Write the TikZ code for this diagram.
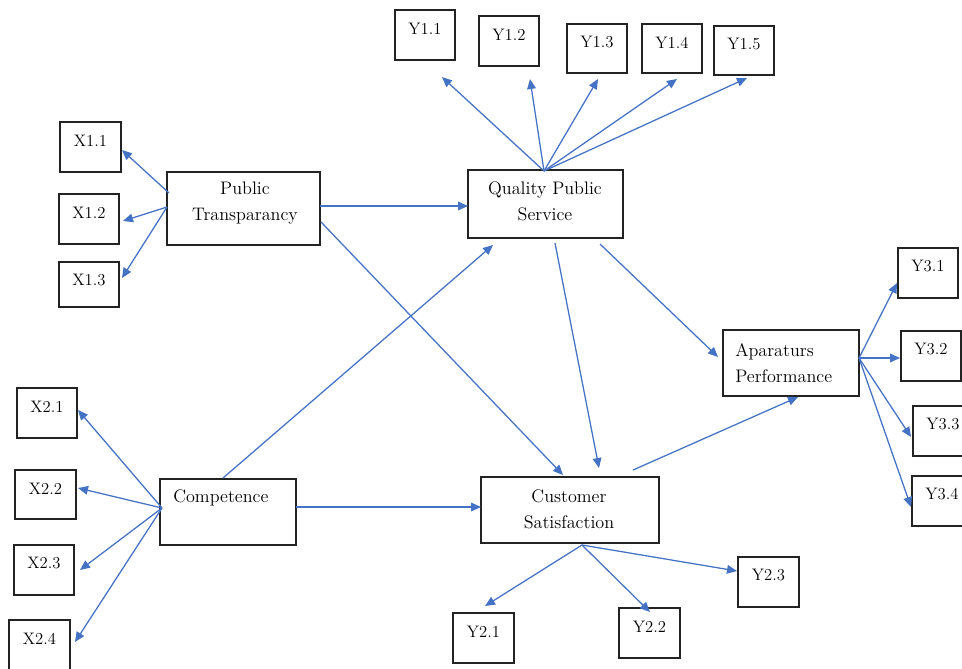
\documentclass[tikz,border=0pt]{standalone}
\usetikzlibrary{arrows.meta}
\definecolor{arrblue}{RGB}{68,114,196}
\definecolor{boxline}{RGB}{35,35,35}
\begin{document}
\begin{tikzpicture}[x=0.75pt,y=-0.75pt,
  box/.style={draw=boxline, line width=1pt, inner sep=0pt},
  ind/.style={box, minimum width=45pt, minimum height=37.5pt,
    label={[anchor=center,yshift=-14.25pt,inner sep=0pt,font=\fontsize{12.5}{15}\selectfont]north:#1}},
  txt/.style={inner sep=0pt, font=\fontsize{13.6}{19.5}\selectfont},
  arr/.style={draw=arrblue, line width=0.95pt, -{Triangle[length=7.5pt,width=6.5pt]}}]
\useasboundingbox (0,0) rectangle (962,668);
\clip (0,0) rectangle (962,668);
% ---------- main constructs ----------
\node[box, minimum width=114.75pt, minimum height=54.75pt] (PT) at (243.5,208.5) {};
\node[txt, align=center] (PTt) at (245,203.5) {Public\\Transparancy};
\node[box, minimum width=116.25pt, minimum height=51pt] (QPS) at (545.5,204) {};
\node[txt, align=center] (QPSt) at (545,201) {Quality Public\\Service};
\node[box, minimum width=102pt, minimum height=49.5pt] (Comp) at (228,512) {};
\node[txt, anchor=west] (Compt) at (173,498) {Competence};
\node[box, minimum width=133.5pt, minimum height=49.5pt] (CS) at (570,510) {};
\node[txt, align=center] (CSt) at (569,509) {Customer\\Satisfaction};
\node[box, minimum width=102pt, minimum height=49.5pt] (AP) at (791,363) {};
\node[txt, align=left, anchor=west] (APt) at (735,363) {Aparaturs\\Performance};
% ---------- indicators ----------
\node[ind=Y1.1] (y11) at (425,35) {};
\node[ind=Y1.2] (y12) at (509,41) {};
\node[ind=Y1.3, minimum height=36.75pt] (y13) at (597,48.5) {};
\node[ind=Y1.4, minimum height=36.75pt] (y14) at (672,48.5) {};
\node[ind=Y1.5, minimum height=36.75pt] (y15) at (744,50.5) {};
\node[ind=X1.1, minimum width=45.75pt] (x11) at (90.5,147) {};
\node[ind=X1.2] (x12) at (89,219) {};
\node[ind=X1.3, minimum height=33.75pt] (x13) at (89,284.5) {};
\node[ind=X2.1] (x21) at (47,413) {};
\node[ind=X2.2, minimum width=45.75pt, minimum height=36.75pt] (x22) at (45.5,494.5) {};
\node[ind=X2.3] (x23) at (44,570) {};
\node[ind=X2.4, minimum width=45.75pt] (x24) at (39.5,645) {};
\node[ind=Y2.1, minimum width=45.75pt] (y21) at (483.5,638) {};
\node[ind=Y2.2, minimum width=45.75pt] (y22) at (649.5,633) {};
\node[ind=Y2.3, minimum width=45.75pt] (y23) at (768.5,582) {};
\node[ind=Y3.1] (y31) at (928,273) {};
\node[ind=Y3.2] (y32) at (931,356) {};
\node[ind=Y3.3] (y33) at (943,431) {};
\node[ind=Y3.4] (y34) at (942,501) {};
% ---------- connector end points ----------
\coordinate (qsrc) at (544,171);
\coordinate (t11) at (442,77);
\coordinate (t12) at (530,79);
\coordinate (t13) at (598,79);
\coordinate (t14) at (677,79);
\coordinate (t15) at (747,78);
\coordinate (psrcA) at (169,193);
\coordinate (psrcB) at (167,207);
\coordinate (tx11) at (122,150);
\coordinate (tx12) at (123,221);
\coordinate (tx13) at (122,278);
\coordinate (csrc) at (162,508);
\coordinate (tx21) at (78,410);
\coordinate (tx22) at (78,488);
\coordinate (tx23) at (80,570);
\coordinate (tx24) at (75,642);
\coordinate (ssrc) at (582,545);
\coordinate (ty21) at (485,606);
\coordinate (ty22) at (650,612);
\coordinate (ty23) at (737,571);
\coordinate (asrc) at (859,358);
\coordinate (ty31) at (897,283);
\coordinate (ty32) at (900,358);
\coordinate (ty33) at (911,437);
\coordinate (ty34) at (911,507);
\coordinate (ptq) at (320,206);
\coordinate (qpt) at (468,206);
\coordinate (ptc) at (321,222);
\coordinate (cpt) at (563,475);
\coordinate (cq) at (223,478);
\coordinate (qc) at (493,245);
\coordinate (cc1) at (296,507);
\coordinate (cc2) at (481,507);
\coordinate (qs1) at (555,243);
\coordinate (qs2) at (599,468);
\coordinate (qa1) at (600,244);
\coordinate (qa2) at (718,357);
\coordinate (sa1) at (633,470);
\coordinate (sa2) at (798,397);
% ---------- connectors ----------
\foreach \t in {t11,t12,t13,t14,t15} \draw[arr] (qsrc) -- (\t);
\draw[arr] (psrcA) -- (tx11);
\draw[arr] (psrcB) -- (tx12);
\draw[arr] (psrcB) -- (tx13);
\foreach \t in {tx21,tx22,tx23,tx24} \draw[arr] (csrc) -- (\t);
\foreach \t in {ty21,ty22,ty23} \draw[arr] (ssrc) -- (\t);
\foreach \t in {ty31,ty32,ty33,ty34} \draw[arr] (asrc) -- (\t);
\draw[arr] (ptq) -- (qpt);
\draw[arr] (ptc) -- (cpt);
\draw[arr] (cq) -- (qc);
\draw[arr] (cc1) -- (cc2);
\draw[arr] (qs1) -- (qs2);
\draw[arr] (qa1) -- (qa2);
\draw[arr] (sa1) -- (sa2);
\end{tikzpicture}
\end{document}
